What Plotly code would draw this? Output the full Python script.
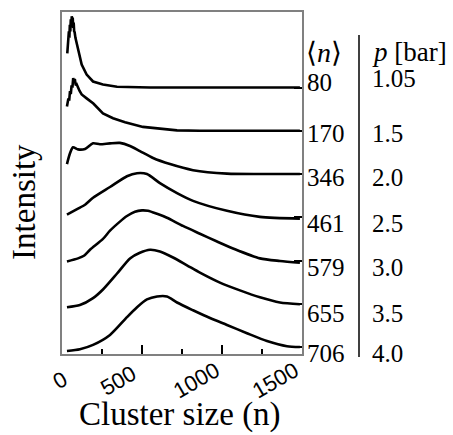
import plotly.graph_objects as go

# Mean cluster size and stagnation pressure for each spectrum (top to bottom)
mean_n = ["80", "170", "346", "461", "579", "655", "706"]
pressure = ["1.05", "1.5", "2.0", "2.5", "3.0", "3.5", "4.0"]

# Vertical offset of each stacked spectrum (arbitrary units)
offsets = [6, 5, 4, 3, 2, 1, 0]

# Cluster-size distributions: n values and intensity above each baseline
n_105 = [33, 37, 40, 43, 46, 49, 52, 55, 58, 61, 64, 67, 70, 73, 76, 79, 84, 102, 123, 154, 194, 256, 344, 550, 1487]
i_105 = [0.79, 1.05, 0.95, 1.30, 1.15, 1.45, 1.30, 1.58, 1.40, 1.65, 1.50, 1.62, 1.38, 1.50, 1.30, 1.28, 1.15, 0.87, 0.53, 0.30, 0.14, 0.07, 0.02, 0.0, 0.0]

n_15 = [31, 40, 45, 50, 55, 60, 65, 70, 75, 80, 86, 92, 110, 123, 154, 196, 256, 319, 394, 506, 719, 862, 1487]
i_15 = [0.56, 0.75, 0.70, 0.92, 0.85, 1.05, 1.00, 1.22, 1.12, 1.20, 1.05, 1.07, 0.92, 0.84, 0.75, 0.63, 0.40, 0.29, 0.20, 0.09, 0.01, 0.0, 0.0]

n_20 = [31, 50, 69, 100, 144, 194, 237, 300, 362, 425, 487, 569, 675, 819, 1031, 1237, 1487]
i_20 = [0.23, 0.48, 0.62, 0.57, 0.58, 0.71, 0.69, 0.71, 0.72, 0.65, 0.53, 0.37, 0.23, 0.09, 0.01, 0.0, 0.0]

n_25 = [31, 94, 144, 194, 300, 406, 469, 531, 612, 719, 819, 1031, 1237, 1487]
i_25 = [0.06, 0.19, 0.29, 0.45, 0.70, 0.95, 1.02, 1.00, 0.79, 0.56, 0.38, 0.15, 0.01, -0.03]

n_30 = [31, 100, 137, 175, 256, 300, 362, 406, 456, 500, 537, 594, 656, 756, 862, 969, 1069, 1237, 1362, 1487]
i_30 = [-0.02, 0.05, 0.11, 0.25, 0.50, 0.69, 0.90, 1.03, 1.13, 1.16, 1.15, 1.08, 0.99, 0.80, 0.62, 0.44, 0.28, 0.05, -0.01, -0.05]

n_35 = [31, 112, 194, 256, 344, 425, 487, 550, 612, 694, 781, 862, 987, 1112, 1237, 1362, 1487]
i_35 = [-0.08, -0.03, 0.13, 0.33, 0.70, 1.05, 1.18, 1.25, 1.21, 1.07, 0.89, 0.72, 0.49, 0.31, 0.15, 0.03, -0.01]

n_40 = [31, 112, 194, 300, 406, 469, 531, 594, 656, 719, 819, 925, 1031, 1156, 1281, 1406, 1487]
i_40 = [-0.09, -0.05, 0.05, 0.28, 0.69, 0.92, 1.10, 1.17, 1.17, 1.03, 0.85, 0.67, 0.51, 0.32, 0.14, 0.02, 0.0]

series_n = [n_105, n_15, n_20, n_25, n_30, n_35, n_40]
series_i = [i_105, i_15, i_20, i_25, i_30, i_35, i_40]
series_shape = ["linear", "linear", "spline", "spline", "spline", "spline", "spline"]

# Axis ticks
x_ticks = [0, 500, 1000, 1500]
x_minor = [250, 750, 1250]

SERIF = "Liberation Serif"
SANS = "Liberation Sans"
FRAME = "#808080"

fig = go.Figure()
for ns, vals, off, p, shp in zip(series_n, series_i, offsets, pressure, series_shape):
    line = dict(color="black", width=2.6, shape=shp)
    if shp == "spline":
        line["smoothing"] = 0.7
    fig.add_trace(go.Scatter(
        x=ns, y=[v + off for v in vals], mode="lines", line=line,
        name=p, showlegend=False, hoverinfo="skip",
    ))

ymin, ymax = -0.161, 7.747

fig.update_layout(
    width=453, height=435,
    margin=dict(l=62, r=151, t=10, b=81),
    plot_bgcolor="white", paper_bgcolor="white",
    xaxis=dict(
        range=[0, 1500], tickvals=x_ticks, showticklabels=False,
        ticks="inside", ticklen=9, tickwidth=2, tickcolor="black",
        minor=dict(ticks="inside", ticklen=5, tickwidth=2, tickcolor="black", tickvals=x_minor),
        showline=True, linecolor=FRAME, linewidth=2, mirror=True,
        showgrid=False, zeroline=False,
    ),
    yaxis=dict(
        range=[ymin, ymax], side="right", tickvals=offsets,
        ticks="inside", ticklen=8, tickwidth=2, tickcolor="black",
        showticklabels=False,
        showline=True, linecolor=FRAME, linewidth=2, mirror=True,
        showgrid=False, zeroline=False,
    ),
)

# Slanted x tick labels, set just below the axis and to the left of each tick
tick_shift = [-2.5, -23.5, -26, -27]
for v, sh in zip(x_ticks, tick_shift):
    fig.add_annotation(text=str(v), xref="x", yref="paper", x=v, y=-0.078,
                       xshift=sh, xanchor="center", yanchor="middle", textangle=-30,
                       showarrow=False, font=dict(family=SANS, size=22, color="black"))

# Axis titles
fig.add_annotation(text="Cluster size (n)", xref="paper", yref="paper",
                   x=0.49, y=-0.177, xanchor="center", yanchor="middle",
                   showarrow=False, font=dict(family=SERIF, size=33, color="black"))
fig.add_annotation(text="Intensity", xref="paper", yref="paper",
                   x=-0.158, y=0.445, xanchor="center", yanchor="middle", textangle=-90,
                   showarrow=False, font=dict(family=SERIF, size=33, color="black"))

# Column headers
fig.add_annotation(text="\u27e8<i>n</i>\u27e9", xref="paper", yref="y",
                   x=1.01, y=6.82, xanchor="left", yanchor="middle",
                   showarrow=False, font=dict(family=SERIF, size=28, color="black"))
fig.add_annotation(text="<i>p</i> [bar]", xref="paper", yref="y",
                   x=1.283, y=6.82, xanchor="left", yanchor="middle",
                   showarrow=False, font=dict(family=SERIF, size=27, color="black"))

# Row labels next to each spectrum
label_y = [6.12, 4.94, 3.91, 2.85, 1.84, 0.78, -0.14]
p_label_y = [6.20, 4.94, 3.91, 2.85, 1.84, 0.78, -0.14]
for nm, p, yl, yp in zip(mean_n, pressure, label_y, p_label_y):
    fig.add_annotation(text=nm, xref="paper", yref="y", x=1.013, y=yl,
                       xanchor="left", yanchor="middle", showarrow=False,
                       font=dict(family=SERIF, size=25, color="black"))
    fig.add_annotation(text=p, xref="paper", yref="y", x=1.283, y=yp,
                       xanchor="left", yanchor="middle", showarrow=False,
                       font=dict(family=SERIF, size=25, color="black"))

# Divider between the two label columns
fig.add_shape(type="line", xref="paper", yref="paper",
              x0=1.2375, x1=1.2375, y0=0.933, y1=-0.009,
              line=dict(color="black", width=1.5))

fig.write_html("out.html")
